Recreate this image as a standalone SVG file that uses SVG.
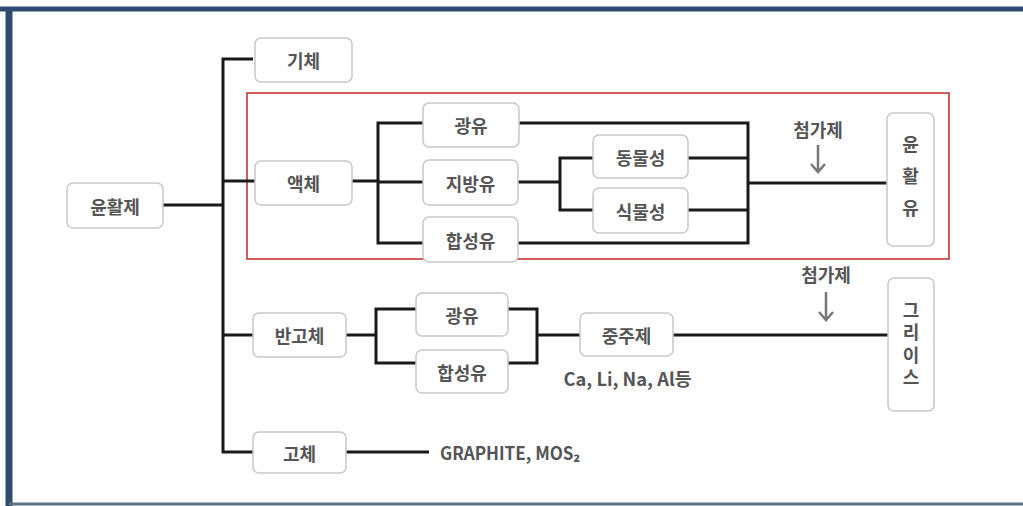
<svg xmlns="http://www.w3.org/2000/svg" width="1023" height="506" viewBox="0 0 1023 506">
<style>
.box{fill:#fff;stroke:#c8c8c8;stroke-width:1.5}
.t{font-family:"Noto Sans CJK KR","Noto Sans",sans-serif;font-size:18px;font-weight:700;fill:#555;text-anchor:middle;dominant-baseline:central}
.v{font-family:"Noto Sans CJK KR","Noto Sans",sans-serif;font-size:18px;font-weight:700;fill:#555;text-anchor:middle;writing-mode:vertical-rl;text-orientation:upright}
.c{fill:none;stroke:#1a1a1a;stroke-width:3}
.arr{fill:none;stroke:#777;stroke-width:2.5}
</style>
<rect x="0" y="0" width="1023" height="506" fill="#fff"/>
<g id="frame">
<line x1="0" y1="9" x2="1023" y2="9" stroke="#2f4b6e" stroke-width="5"/>
<line x1="9" y1="7" x2="9" y2="506" stroke="#2f4b6e" stroke-width="7"/>
<line x1="9" y1="504" x2="1023" y2="504" stroke="#5c7182" stroke-width="3"/>
</g>
<rect id="liquid-group" x="247" y="93" width="702" height="166" fill="none" stroke="#c0282d" stroke-width="1.5"/>
<g id="connectors">
<path class="c" d="M163,205 H223 M253,59 H223 V452 H253 M223,181 H255 M223,335 H253"/>
<path class="c" d="M352,181 H378 M423,123 H378 V243 H423 M378,182 H423"/>
<path class="c" d="M519,123 H748 V243 H518 M518,182 H560 M593,158 H560 V210 H593 M688,158 H748 M688,210 H748 M748,183 H887"/>
<path class="c" d="M346,335 H376 M416,309 H376 V363 H416 M508,309 H537 V363 H508 M537,335 H580 M673,335 H888"/>
<path class="c" d="M346,452 H429"/>
<path class="arr" d="M818,145 V172 M811,164 L818,172 L825,164"/>
<path class="arr" d="M826,292 V320 M819,312 L826,320 L833,312"/>
</g>
<g id="n-yunhwalje"><rect class="box" x="67" y="183" width="96" height="45" rx="6"/><text class="t" x="115" y="205.5">윤활제</text></g>
<g id="n-gich"><rect class="box" x="255" y="38" width="97" height="44" rx="6"/><text class="t" x="303.5" y="60">기체</text></g>
<g id="n-aekche"><rect class="box" x="255" y="161" width="97" height="44" rx="6"/><text class="t" x="303.5" y="183">액체</text></g>
<g id="n-gwangyu1"><rect class="box" x="423" y="103" width="96" height="44" rx="6"/><text class="t" x="471" y="125">광유</text></g>
<g id="n-jibangyu"><rect class="box" x="423" y="160" width="95" height="45" rx="6"/><text class="t" x="470.5" y="182.5">지방유</text></g>
<g id="n-hapseongyu1"><rect class="box" x="423" y="217" width="95" height="45" rx="6"/><text class="t" x="470.5" y="239.5">합성유</text></g>
<g id="n-dongmul"><rect class="box" x="593" y="135" width="95" height="43" rx="6"/><text class="t" x="640.5" y="156.5">동물성</text></g>
<g id="n-sikmul"><rect class="box" x="593" y="188" width="95" height="45" rx="6"/><text class="t" x="640.5" y="210.5">식물성</text></g>
<g id="n-yunhwalyu"><rect class="box" x="887" y="113" width="47" height="133" rx="6"/><text class="v" x="910.5" y="183" letter-spacing="14">윤활유</text></g>
<text class="t" x="818" y="129">첨가제</text>
<g id="n-bangoche"><rect class="box" x="253" y="313" width="93" height="44" rx="6"/><text class="t" x="299.5" y="335">반고체</text></g>
<g id="n-gwangyu2"><rect class="box" x="416" y="293" width="92" height="43" rx="6"/><text class="t" x="462" y="314.5">광유</text></g>
<g id="n-hapseongyu2"><rect class="box" x="416" y="350" width="92" height="43" rx="6"/><text class="t" x="462" y="371.5">합성유</text></g>
<g id="n-jungjuje"><rect class="box" x="580" y="313" width="93" height="43" rx="6"/><text class="t" x="626.5" y="334.5">중주제</text></g>
<text class="t" x="627.5" y="378" textLength="128" lengthAdjust="spacingAndGlyphs">Ca, Li, Na, Al등</text>
<g id="n-grease"><rect class="box" x="888" y="278" width="46" height="133" rx="6"/><text class="v" x="911" y="346" letter-spacing="4.5">그리이스</text></g>
<text class="t" x="826" y="274">첨가제</text>
<g id="n-goche"><rect class="box" x="253" y="432" width="93" height="41" rx="6"/><text class="t" x="299.5" y="452.5">고체</text></g>
<text class="t" x="510" y="452" textLength="140" lengthAdjust="spacingAndGlyphs">GRAPHITE, MOS₂</text>
</svg>
